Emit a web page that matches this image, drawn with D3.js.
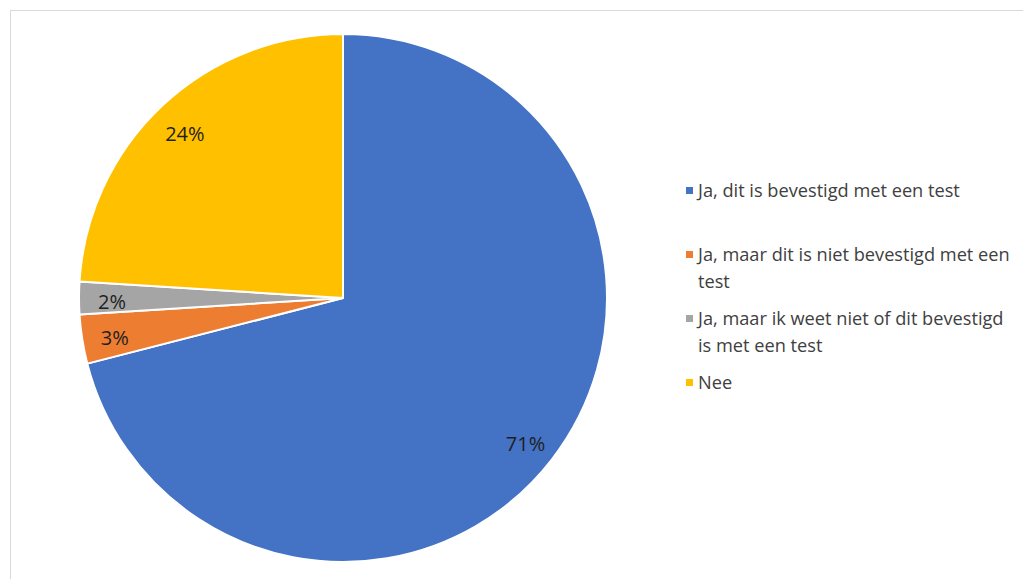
<!DOCTYPE html>
<html><head><meta charset="utf-8">
<script src="https://cdn.jsdelivr.net/npm/d3@7"></script>
<style>html,body{margin:0;padding:0;background:#fff;}svg{display:block;}</style>
</head><body>
<svg id="chart" width="1023" height="579"></svg>
<script>
const categories = [
  "Ja, dit is bevestigd met een test",
  "Ja, maar dit is niet bevestigd met een test",
  "Ja, maar ik weet niet of dit bevestigd is met een test",
  "Nee"
];
const values = [71, 3, 2, 24];
const labels = ["71%", "3%", "2%", "24%"];
const colors = ["#4472C4", "#ED7D31", "#A5A5A5", "#FFC000"];
const legendLines = [
  ["Ja, dit is bevestigd met een test"],
  ["Ja, maar dit is niet bevestigd met een", "test"],
  ["Ja, maar ik weet niet of dit bevestigd", "is met een test"],
  ["Nee"]
];
const legendY = [191, 255, 319, 383];

const svg = d3.select("#chart");
svg.append("rect").attr("x", 10.5).attr("y", 10.5).attr("width", 1030).attr("height", 600)
  .attr("fill", "#fff").attr("stroke", "#d9d9d9").attr("stroke-width", 1);

const cx = 343, cy = 298, R = 264;
const pie = d3.pie().sort(null).value(d => d)(values);
const arc = d3.arc().innerRadius(0).outerRadius(R);
const labelArc = d3.arc().innerRadius(231).outerRadius(231);
const g = svg.append("g").attr("transform", `translate(${cx},${cy})`);
g.selectAll("path").data(pie).join("path")
  .attr("d", arc).attr("fill", (d, i) => colors[i])
  .attr("stroke", "#fff").attr("stroke-width", 2).attr("stroke-linejoin", "round");
g.selectAll("text").data(pie).join("text")
  .attr("transform", d => { const c = labelArc.centroid(d); return `translate(${c[0]},${c[1] + 4})`; })
  .attr("text-anchor", "middle").attr("dy", "0.35em")
  .attr("font-family", "Open Sans, sans-serif").attr("font-size", 20)
  .attr("fill", "#1f1f1f")
  .text((d, i) => labels[i]);

const lg = svg.append("g");
categories.forEach((c, i) => {
  lg.append("rect").attr("x", 686).attr("y", legendY[i] - 4).attr("width", 7).attr("height", 7)
    .attr("fill", colors[i]);
  const t = lg.append("text").attr("x", 698).attr("y", legendY[i])
    .attr("font-family", "Open Sans, sans-serif").attr("font-size", 18.2).attr("fill", "#404040");
  legendLines[i].forEach((ln, j) => {
    t.append("tspan").attr("x", 698).attr("dy", j === 0 ? "0.35em" : "27px").text(ln);
  });
});
</script>
</body></html>
